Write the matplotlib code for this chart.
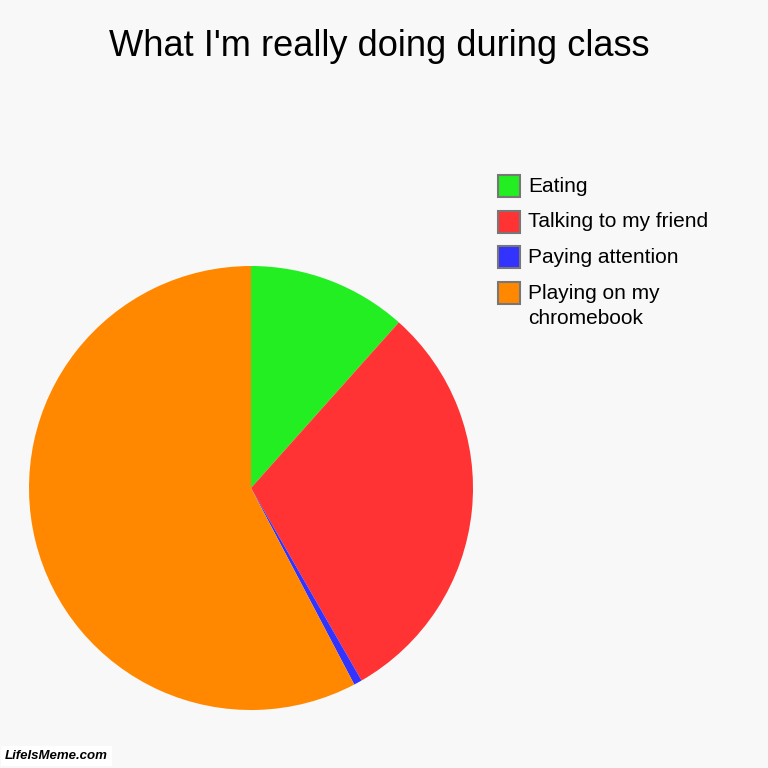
import matplotlib
matplotlib.use("Agg")
import matplotlib.pyplot as plt
from matplotlib.patches import Rectangle

title = "What I'm really doing during class"
labels = ["Eating", "Talking to my friend", "Paying attention", "Playing on my\nchromebook"]
values = [11.6, 30.1, 0.6, 57.7]
colors = ["#22ee22", "#ff3333", "#3333ff", "#ff8800"]

plt.rcParams['font.family'] = ['Liberation Sans', 'DejaVu Sans']
bg = "#f8f8f8"
W = H = 768
fig = plt.figure(figsize=(7.68, 7.68), dpi=100, facecolor=bg)

ax = fig.add_axes([29/W, 58/H, 444/W, 444/H])
ax.set_facecolor(bg)
ax.pie(values, colors=colors, startangle=90, counterclock=False, radius=1.0,
       wedgeprops=dict(linewidth=0))
ax.set_xlim(-1, 1)
ax.set_ylim(-1, 1)
ax.set_aspect('equal')
ax.axis('off')

fig.text(379/W, 1 - 46/H, title, ha='center', va='center', fontsize=26.1)

# manual legend (pixel layout, top-left origin)
x0, y0, pitch = 498, 175, 35.7
for i, (lab, col) in enumerate(zip(labels, colors)):
    top = y0 + i * pitch
    fig.add_artist(Rectangle((x0/W, 1 - (top + 22)/H), 22/W, 22/H, transform=fig.transFigure,
                             facecolor=col, edgecolor='#777777', linewidth=1.5))
    if '\n' in lab:
        fig.text(528/W, 1 - (top + 2)/H, lab, ha='left', va='top', fontsize=15, linespacing=1.37)
    else:
        fig.text(528/W, 1 - (top + 11)/H, lab, ha='left', va='center', fontsize=15)

fig.text(5/W, 12/H, "LifeIsMeme.com", ha='left', va='center', fontsize=9.5,
         fontweight='bold', fontstyle='italic', color='black',
         bbox=dict(facecolor='white', edgecolor='none', pad=3))

fig.savefig("out.png", dpi=100, facecolor=bg)
